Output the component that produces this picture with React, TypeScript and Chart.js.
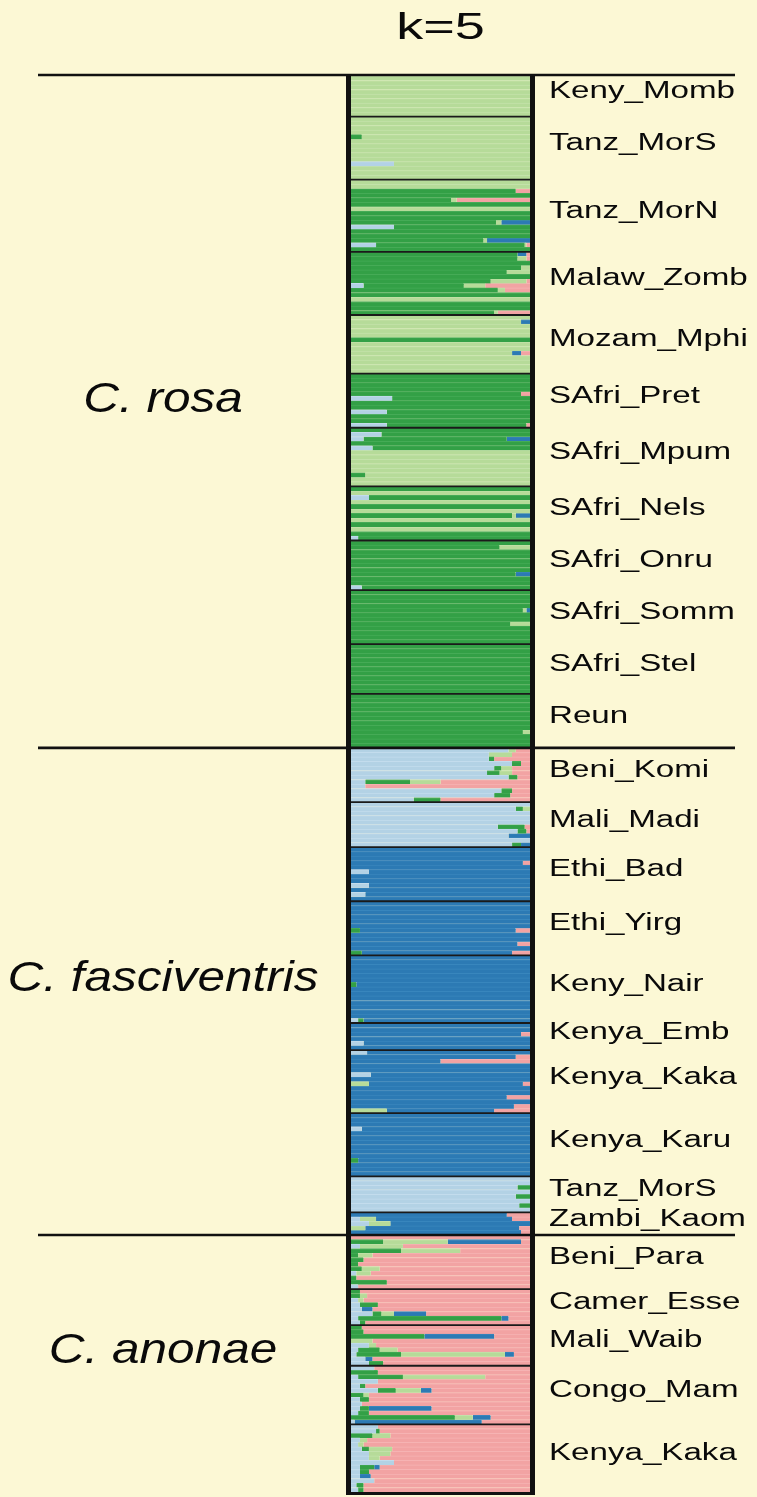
import React, { useEffect, useRef } from "react";
import { Chart, registerables } from "chart.js";

Chart.register(...registerables);

// ---------- DATA ----------
const TITLE = "k=5";

// cluster order as stacked left -> right in every individual's bar
const CLUSTERS = ["Cluster 1", "Cluster 2", "Cluster 3", "Cluster 4", "Cluster 5"];

const SPECIES = ["C. rosa", "C. fasciventris", "C. anonae"];
const SPECIES_POP_COUNTS = [12, 10, 5];

const POPULATIONS = [
  "Keny_Momb", "Tanz_MorS", "Tanz_MorN", "Malaw_Zomb", "Mozam_Mphi", "SAfri_Pret",
  "SAfri_Mpum", "SAfri_Nels", "SAfri_Onru", "SAfri_Somm", "SAfri_Stel", "Reun",
  "Beni_Komi", "Mali_Madi", "Ethi_Bad", "Ethi_Yirg", "Keny_Nair", "Kenya_Emb",
  "Kenya_Kaka", "Kenya_Karu", "Tanz_MorS", "Zambi_Kaom",
  "Beni_Para", "Camer_Esse", "Mali_Waib", "Congo_Mam", "Kenya_Kaka",
];

// dominant cluster of each individual, one letter per individual
// B = cluster 1, G = cluster 2, L = cluster 3, D = cluster 4, P = cluster 5
const POP_ROWS = [
  "LLLLLLLLL",
  "LLLLLLLLLLLLLL",
  "LLGGGGLGGGGGGGGG",
  "GGGGGGGGGGLGGG",
  "LLLLLGLLLLLLL",
  "GGGGGGGGGGGG",
  "GGGGGLLLLLLLL",
  "GLGLGLGLGLGG",
  "GGGGGGGGGGG",
  "GGGGGGGGGGGG",
  "GGGGGGGGGGG",
  "GGGGGGGGGGGG",
  "BBBBBBBBBBBB",
  "BBBBBBBBBB",
  "DDDDDDDDDDDD",
  "DDDDDDDDDDDD",
  "DDDDDDDDDDDDDDD",
  "DDDDDD",
  "DDDDDDDDDDDDDD",
  "DDDDDDDDDDDDDD",
  "BBBBBBBB",
  "DDDDD",
  "PPPPPPPPPPPP",
  "PPPPPPPP",
  "PPPPPPPPP",
  "PPPPPPPPPPPPP",
  "PPPPPPPPPPPPPPP",
];

// admixed individuals: [population, individual, q1, q2, q3, q4, q5]
const ADMIXED: number[][] = [
  [1, 4, 0, 0.06, 0.94, 0, 0], [1, 10, 0.24, 0, 0.76, 0, 0],
  [2, 2, 0, 0.92, 0, 0, 0.08], [2, 4, 0, 0.56, 0.03, 0, 0.41], [2, 9, 0, 0.81, 0.03, 0.16, 0],
  [2, 10, 0.24, 0.76, 0, 0, 0], [2, 13, 0, 0.74, 0.02, 0.24, 0], [2, 14, 0.14, 0.83, 0.01, 0, 0.02],
  [3, 0, 0, 0.93, 0, 0.05, 0.02], [3, 1, 0, 0.93, 0.05, 0, 0.02], [3, 3, 0, 0.95, 0.05, 0, 0],
  [3, 4, 0, 0.87, 0.13, 0, 0], [3, 6, 0, 0.78, 0.2, 0, 0.02], [3, 7, 0.07, 0.56, 0.12, 0, 0.25],
  [3, 8, 0, 0.82, 0.04, 0, 0.14], [3, 13, 0, 0.8, 0.02, 0, 0.18],
  [4, 1, 0, 0, 0.95, 0.05, 0], [4, 8, 0, 0, 0.9, 0.05, 0.05],
  [5, 4, 0, 0.95, 0, 0, 0.05], [5, 5, 0.23, 0.77, 0, 0, 0], [5, 8, 0.2, 0.8, 0, 0, 0], [5, 11, 0.2, 0.78, 0, 0, 0.02],
  [6, 1, 0.17, 0.83, 0, 0, 0], [6, 2, 0.07, 0.8, 0, 0.13, 0], [6, 4, 0.12, 0.88, 0, 0, 0], [6, 10, 0, 0.08, 0.92, 0, 0],
  [7, 2, 0.1, 0.9, 0, 0, 0], [7, 6, 0, 0.9, 0.02, 0.08, 0], [7, 11, 0.04, 0.96, 0, 0, 0],
  [8, 1, 0, 0.83, 0.17, 0, 0], [8, 7, 0, 0.92, 0, 0.08, 0], [8, 10, 0.06, 0.94, 0, 0, 0],
  [9, 4, 0, 0.96, 0.02, 0.02, 0], [9, 7, 0, 0.89, 0.11, 0, 0],
  [11, 8, 0, 0.96, 0.04, 0, 0],
  [12, 0, 0.88, 0, 0.04, 0, 0.08], [12, 1, 0.77, 0, 0.13, 0, 0.1], [12, 2, 0.77, 0.03, 0, 0, 0.2],
  [12, 3, 0.9, 0.05, 0, 0, 0.05], [12, 4, 0.8, 0.04, 0.06, 0, 0.1],
  [12, 5, 0.76, 0.07, 0.07, 0, 0.1], [12, 6, 0.88, 0.05, 0, 0, 0.07], [12, 7, 0.08, 0.25, 0.17, 0, 0.5],
  [12, 8, 0.08, 0, 0, 0, 0.92], [12, 9, 0.84, 0.06, 0, 0, 0.1],
  [12, 10, 0.8, 0.09, 0, 0, 0.11], [12, 11, 0.35, 0.15, 0, 0, 0.5],
  [13, 1, 0.92, 0.04, 0.04, 0, 0], [13, 5, 0.82, 0.15, 0, 0, 0.03], [13, 6, 0.93, 0.05, 0, 0, 0.02],
  [13, 7, 0.88, 0, 0, 0.12, 0], [13, 9, 0.9, 0.05, 0, 0.05, 0],
  [14, 3, 0, 0, 0, 0.96, 0.04], [14, 5, 0.1, 0, 0, 0.9, 0], [14, 8, 0.1, 0, 0, 0.9, 0], [14, 10, 0.08, 0, 0, 0.92, 0],
  [15, 6, 0, 0.05, 0, 0.87, 0.08], [15, 9, 0, 0, 0, 0.93, 0.07], [15, 11, 0, 0.06, 0, 0.84, 0.1],
  [16, 6, 0, 0.03, 0, 0.97, 0], [16, 14, 0.04, 0.03, 0, 0.93, 0],
  [17, 2, 0, 0, 0, 0.95, 0.05], [17, 4, 0.07, 0, 0, 0.93, 0],
  [18, 0, 0.09, 0, 0, 0.91, 0], [18, 1, 0, 0, 0, 0.92, 0.08], [18, 2, 0, 0, 0, 0.5, 0.5],
  [18, 5, 0.11, 0, 0, 0.89, 0], [18, 7, 0, 0, 0.1, 0.86, 0.04], [18, 10, 0, 0, 0, 0.87, 0.13],
  [18, 12, 0, 0, 0, 0.91, 0.09], [18, 13, 0, 0, 0.2, 0.6, 0.2],
  [19, 3, 0.06, 0, 0, 0.94, 0], [19, 10, 0, 0.04, 0, 0.96, 0],
  [20, 2, 0.93, 0.07, 0, 0, 0], [20, 4, 0.92, 0.08, 0, 0, 0], [20, 6, 0.94, 0.06, 0, 0, 0],
  [21, 0, 0, 0, 0, 0.87, 0.13], [21, 1, 0.05, 0, 0.09, 0.76, 0.1], [21, 2, 0.1, 0, 0.12, 0.78, 0],
  [21, 3, 0, 0, 0.08, 0.86, 0.06], [21, 4, 0, 0, 0, 0.95, 0.05],
  [22, 1, 0, 0.18, 0.36, 0.41, 0.05], [22, 2, 0.05, 0, 0.24, 0, 0.71], [22, 3, 0, 0.28, 0.33, 0, 0.39],
  [22, 4, 0, 0.04, 0.08, 0, 0.88], [22, 5, 0, 0.07, 0, 0, 0.93], [22, 6, 0, 0.04, 0, 0, 0.96],
  [22, 7, 0, 0.06, 0.1, 0, 0.84], [22, 8, 0.03, 0, 0.08, 0, 0.89], [22, 9, 0, 0.03, 0, 0, 0.97],
  [22, 10, 0, 0.2, 0, 0, 0.8], [22, 11, 0.04, 0, 0, 0, 0.96],
  [23, 0, 0, 0.05, 0, 0, 0.95], [23, 1, 0, 0.05, 0.04, 0, 0.91], [23, 2, 0.04, 0, 0.03, 0, 0.93],
  [23, 3, 0.05, 0.1, 0, 0, 0.85], [23, 4, 0.06, 0, 0, 0.06, 0.88], [23, 5, 0.12, 0.05, 0.07, 0.18, 0.58],
  [23, 6, 0.04, 0.8, 0, 0.04, 0.12], [23, 7, 0.05, 0.03, 0, 0, 0.92],
  [24, 0, 0, 0.06, 0, 0, 0.94], [24, 1, 0, 0.07, 0, 0, 0.93], [24, 2, 0, 0.41, 0, 0.39, 0.2],
  [24, 3, 0, 0, 0.12, 0, 0.88], [24, 4, 0.1, 0, 0.04, 0, 0.86],
  [24, 5, 0.04, 0.12, 0.1, 0, 0.74], [24, 6, 0.03, 0.25, 0.58, 0.05, 0.09], [24, 7, 0.08, 0, 0, 0.04, 0.88],
  [24, 8, 0.1, 0.08, 0, 0, 0.82],
  [25, 0, 0.13, 0, 0, 0, 0.87], [25, 1, 0, 0.15, 0, 0, 0.85], [25, 2, 0.04, 0.25, 0.46, 0, 0.25],
  [25, 3, 0.15, 0, 0, 0, 0.85], [25, 4, 0.05, 0.03, 0, 0, 0.92], [25, 5, 0.15, 0.1, 0.14, 0.06, 0.55],
  [25, 6, 0, 0.07, 0.03, 0, 0.9], [25, 7, 0.05, 0.05, 0, 0, 0.9], [25, 8, 0.06, 0, 0, 0, 0.94],
  [25, 9, 0.05, 0.05, 0, 0.35, 0.55], [25, 10, 0.04, 0.06, 0, 0, 0.9],
  [25, 11, 0, 0.58, 0.1, 0.1, 0.22], [25, 12, 0.02, 0, 0, 0.71, 0.27],
  [26, 0, 0.15, 0, 0, 0, 0.85], [26, 1, 0.14, 0.02, 0, 0, 0.84], [26, 2, 0, 0.12, 0.1, 0, 0.78],
  [26, 3, 0.05, 0, 0.04, 0, 0.91], [26, 4, 0.04, 0, 0.03, 0, 0.93],
  [26, 5, 0.06, 0.04, 0.13, 0, 0.77], [26, 6, 0.1, 0, 0.12, 0, 0.78], [26, 7, 0.1, 0, 0.06, 0, 0.84],
  [26, 8, 0.24, 0, 0, 0, 0.76], [26, 9, 0.05, 0.08, 0, 0.03, 0.84], [26, 10, 0.05, 0.05, 0, 0, 0.9],
  [26, 11, 0.05, 0, 0, 0.06, 0.89], [26, 12, 0.13, 0, 0, 0, 0.87],
  [26, 13, 0.03, 0.04, 0, 0, 0.93], [26, 14, 0.04, 0.03, 0, 0, 0.93],
];

// ---------- STYLE ----------
const BG = "#fcf8d5";
const COLORS = ["#b3d2e5", "#33a046", "#b6db99", "#2c7ab4", "#f2a3a3"];
const STRIPES = ["#c3dced", "#45ab56", "#c3e2aa", "#3886bd", "#f6b3b3"];
const FONT = "'Liberation Sans', Arial, sans-serif";

// ---------- TABLE BUILT FROM DATA ----------
const CODE = "BGLDP";
const individuals: number[][] = [];
const popStarts: number[] = [];
POP_ROWS.forEach((rowStr, p) => {
  popStarts.push(individuals.length);
  for (let i = 0; i < rowStr.length; i++) {
    const over = ADMIXED.find((a) => a[0] === p && a[1] === i);
    if (over) {
      individuals.push(over.slice(2));
    } else {
      const q = [0, 0, 0, 0, 0];
      q[CODE.indexOf(rowStr[i])] = 1;
      individuals.push(q);
    }
  }
});
const popSizes = POP_ROWS.map((s) => s.length);
const labels = individuals.map((_, i) => String(i + 1));

function stretchedText(
  ctx: CanvasRenderingContext2D, text: string, x: number, y: number, sx: number,
  font: string, align: CanvasTextAlign, baseline: CanvasTextBaseline
) {
  ctx.save();
  ctx.translate(x, y);
  ctx.scale(sx, 1);
  ctx.font = font;
  ctx.textAlign = align;
  ctx.textBaseline = baseline;
  ctx.fillStyle = "#0a0a0a";
  ctx.fillText(text, 0, 0);
  ctx.restore();
}

const decorPlugin = {
  id: "decor",
  beforeDraw(chart: any) {
    const ctx = chart.ctx;
    ctx.save();
    ctx.fillStyle = BG;
    ctx.fillRect(0, 0, chart.width, chart.height);
    ctx.restore();
  },
  afterDraw(chart: any) {
    const ctx: CanvasRenderingContext2D = chart.ctx;
    const y = chart.scales.y;
    const area = chart.chartArea;

    const speciesPopStart: number[] = [];
    let acc = 0;
    SPECIES_POP_COUNTS.forEach((c) => { speciesPopStart.push(acc); acc += c; });

    ctx.save();
    // population separators
    ctx.strokeStyle = "#1a1a1a";
    ctx.lineWidth = 1.8;
    popStarts.forEach((s, p) => {
      if (speciesPopStart.includes(p)) return;
      const py = y.getPixelForValue(s - 0.5);
      ctx.beginPath();
      ctx.moveTo(area.left, py);
      ctx.lineTo(area.right, py);
      ctx.stroke();
    });

    // column frame
    ctx.strokeStyle = "#111";
    ctx.lineWidth = 5;
    ctx.beginPath();
    ctx.moveTo(area.left - 2.5, area.top);
    ctx.lineTo(area.left - 2.5, area.bottom + 3);
    ctx.moveTo(area.right + 2.5, area.top);
    ctx.lineTo(area.right + 2.5, area.bottom + 3);
    ctx.stroke();
    ctx.lineWidth = 3;
    ctx.beginPath();
    ctx.moveTo(area.left - 5, area.bottom + 1.5);
    ctx.lineTo(area.right + 5, area.bottom + 1.5);
    ctx.stroke();

    // species lines
    ctx.lineWidth = 2.6;
    speciesPopStart.forEach((sp) => {
      const py = y.getPixelForValue(popStarts[sp] - 0.5) - (sp === 0 ? 1 : 0);
      ctx.beginPath();
      ctx.moveTo(38, py);
      ctx.lineTo(735, py);
      ctx.stroke();
    });
    ctx.restore();

    // population labels
    POPULATIONS.forEach((name, p) => {
      const cy = y.getPixelForValue(popStarts[p] + (popSizes[p] - 1) / 2);
      stretchedText(ctx, name, 549, cy + 2, 1.44, `23px ${FONT}`, "left", "alphabetic");
    });

    // species labels
    SPECIES.forEach((name, s) => {
      const first = popStarts[speciesPopStart[s]];
      const lastPop = speciesPopStart[s] + SPECIES_POP_COUNTS[s] - 1;
      const last = popStarts[lastPop] + popSizes[lastPop] - 1;
      const cy = y.getPixelForValue((first + last) / 2);
      stretchedText(ctx, name, 163, cy, 1.18, `italic 42px ${FONT}`, "center", "alphabetic");
    });

    // title
    stretchedText(ctx, TITLE, (area.left + area.right) / 2, 39, 1.5, `36px ${FONT}`, "center", "alphabetic");
  },
};

export default function App() {
  const ref = useRef<HTMLCanvasElement>(null);

  useEffect(() => {
    if (!ref.current) return;
    const datasets = CLUSTERS.map((name, k) => ({
      label: name,
      data: individuals.map((q) => q[k]),
      backgroundColor: COLORS[k],
      borderColor: STRIPES[k],
      borderWidth: { top: 1, right: 0, bottom: 0, left: 0 },
      borderSkipped: false as const,
      barPercentage: 1,
      categoryPercentage: 1,
    }));
    const chart = new Chart(ref.current, {
      type: "bar",
      data: { labels, datasets },
      options: {
        indexAxis: "y",
        animation: false,
        responsive: false,
        maintainAspectRatio: false,
        devicePixelRatio: 1,
        events: [],
        layout: { padding: { left: 351, right: 757 - 530, top: 76, bottom: 1497 - 1492 } },
        plugins: {
          legend: { display: false },
          tooltip: { enabled: false },
          title: { display: false },
        },
        scales: {
          x: { stacked: true, min: 0, max: 1, display: false },
          y: { stacked: true, display: false },
        },
      },
      plugins: [decorPlugin],
    });
    return () => chart.destroy();
  }, []);

  return (
    <div style={{ position: "absolute", left: 0, top: 0, width: 757, height: 1497, background: BG }}>
      <canvas ref={ref} width={757} height={1497} style={{ display: "block", width: 757, height: 1497 }} />
    </div>
  );
}
